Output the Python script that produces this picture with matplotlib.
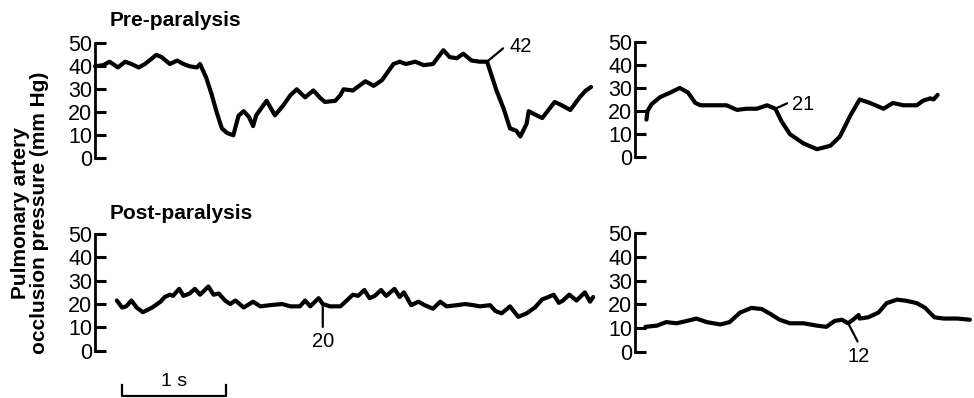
import numpy as np
import matplotlib.pyplot as plt
import matplotlib.transforms as mtransforms

plt.rcParams['font.family'] = ['Liberation Sans', 'DejaVu Sans']

# Traços de pressão (tempo em s, pressão em mm Hg)
pre_a_t = [0.00, 0.08, 0.14, 0.22, 0.29, 0.35, 0.42, 0.48, 0.55, 0.59, 0.64, 0.72, 0.79,
           0.85, 0.91, 0.98, 1.01, 1.07, 1.12, 1.17, 1.22, 1.27, 1.33, 1.38, 1.43, 1.48,
           1.52, 1.55, 1.65, 1.73, 1.81, 1.88, 1.94, 2.02, 2.10, 2.16, 2.21, 2.31, 2.36,
           2.39, 2.48, 2.60, 2.68, 2.76, 2.87, 2.93, 2.99, 3.08, 3.16, 3.25, 3.35, 3.41,
           3.48, 3.54, 3.62, 3.70, 3.77, 3.86, 3.93, 3.99, 4.05, 4.09, 4.15, 4.17, 4.21,
           4.30, 4.36, 4.42, 4.49, 4.57, 4.66, 4.72, 4.77]
pre_a_p = [40, 40.5, 42, 39.5, 42, 41, 39.5, 41, 43.5, 45, 44, 41, 42.5,
           41, 40, 39.5, 41, 35, 28, 20, 13, 11, 10, 18.5, 20.5, 18,
           14, 18.7, 25, 18.7, 23, 27.5, 30, 26.5, 29.5, 26.5, 24.5, 25, 27.5,
           30, 29.5, 33.5, 31.5, 34, 41, 42, 41, 42, 40.5, 41, 47, 44,
           43.5, 45.5, 42.5, 42, 42, 29.5, 21.5, 13, 12, 9.5, 15, 20.5, 19.5,
           17.5, 21, 24.5, 23, 21, 26.5, 29.5, 31]

pre_b_t = [0.11, 0.12, 0.16, 0.24, 0.34, 0.43, 0.51, 0.58, 0.63, 0.72, 0.88, 0.98, 1.07,
           1.17, 1.27, 1.35, 1.41, 1.49, 1.62, 1.75, 1.88, 1.97, 2.07, 2.16, 2.26, 2.39,
           2.48, 2.58, 2.71, 2.77, 2.84, 2.87, 2.91]
pre_b_p = [16.3, 20, 23, 26, 28, 30, 28, 23.5, 22.5, 22.5, 22.5, 20.5, 21,
           21, 22.5, 21, 15.5, 10, 6, 3.5, 5, 9, 18, 25, 23.5, 21,
           23.5, 22.5, 22.5, 24.5, 25.5, 25, 27]

post_a_t = [0.21, 0.26, 0.30, 0.35, 0.40, 0.46, 0.55, 0.63, 0.67, 0.72, 0.75, 0.81, 0.85,
            0.91, 0.96, 1.01, 1.09, 1.14, 1.19, 1.25, 1.30, 1.35, 1.43, 1.52, 1.59, 1.68,
            1.80, 1.88, 1.97, 2.02, 2.07, 2.15, 2.19, 2.26, 2.36, 2.42, 2.48, 2.53, 2.59,
            2.64, 2.69, 2.75, 2.80, 2.88, 2.93, 2.97, 3.04, 3.11, 3.17, 3.25, 3.32, 3.38,
            3.48, 3.56, 3.64, 3.70, 3.80, 3.85, 3.91, 3.99, 4.07, 4.15, 4.23, 4.30, 4.36,
            4.41, 4.46, 4.50, 4.56, 4.63, 4.71, 4.76, 4.79]
post_a_p = [21.5, 18.5, 19, 21.5, 18.5, 16.5, 18.5, 21, 23, 24, 23.5, 26.5, 23.5,
            24.5, 26.5, 24, 27.5, 24, 24.5, 21.5, 20, 21.5, 18.5, 21, 19, 19.5,
            20, 19, 19, 21.5, 19, 22.5, 20, 19, 19, 21.5, 24, 23.5, 26,
            22.5, 23.5, 26, 23.5, 26.5, 23, 25, 19.5, 21, 19.5, 18, 21, 19,
            19.5, 20, 19.5, 19, 19.5, 17, 16, 19, 14.5, 16, 18.5, 22, 23,
            24, 20.5, 21.5, 24, 21.5, 25, 21, 23]

post_b_t = [0.10, 0.21, 0.30, 0.40, 0.50, 0.59, 0.69, 0.82, 0.91, 1.01, 1.12, 1.22, 1.30,
            1.39, 1.49, 1.62, 1.75, 1.84, 1.92, 1.99, 2.05, 2.11, 2.15, 2.16, 2.24, 2.34,
            2.42, 2.52, 2.61, 2.71, 2.79, 2.88, 2.97, 3.10, 3.22]
post_b_p = [10.5, 11, 12.5, 12, 13, 14, 12.5, 11.5, 12.5, 16.5, 18.5, 18, 16,
            13.5, 12, 12, 11, 10.5, 13, 13.5, 12, 14, 15.5, 14, 14.5, 16.5,
            20.5, 22, 21.5, 20.5, 18.5, 14.5, 14, 14, 13.5]

# Valores destacados: (tempo, pressão, rótulo)
marca_pre_a = (3.77, 42, "42")
marca_pre_b = (1.35, 21, "21")
marca_post_a = (2.19, 20, "20")
marca_post_b = (2.05, 12, "12")

y_ticks = [0, 10, 20, 30, 40, 50]

W, H = 974, 398
PX_POR_S = 104.0


def criar_eixo(fig, x0, y_zero, y_cinq, x1):
    # posições em pixels -> fração da figura
    ax = fig.add_axes([x0 / W, (H - y_zero) / H, (x1 - x0) / W, (y_zero - y_cinq) / H])
    ax.set_xlim(0, (x1 - x0) / PX_POR_S)
    ax.set_ylim(0, 50)
    for lado in ["top", "right", "bottom"]:
        ax.spines[lado].set_visible(False)
    ax.spines["left"].set_linewidth(2.0)
    ax.spines["left"].set_bounds(0, 50)
    ax.set_yticks(y_ticks)
    ax.tick_params(axis="y", direction="in", length=8, width=2.2, pad=2, labelsize=15.5)
    ax.set_xticks([])
    ax.patch.set_visible(False)
    return ax


def desenhar(ax, t, p):
    ax.plot(t, p, color="black", lw=3.0, solid_joinstyle="round", solid_capstyle="round",
            clip_on=False)


def marcar(ax, marca, linha, texto, ha="center"):
    t, v, rotulo = marca
    ax.annotate("", xy=(t, v), xytext=linha, textcoords="offset points",
                arrowprops=dict(arrowstyle="-", lw=1.6, color="black", shrinkA=0, shrinkB=0))
    ax.annotate(rotulo, xy=(t, v), xytext=texto, textcoords="offset points",
                ha=ha, va="center", fontsize=14.5)


fig = plt.figure(figsize=(W / 100, H / 100), dpi=100)

ax1 = criar_eixo(fig, 95, 158.3, 43.3, 600)
ax2 = criar_eixo(fig, 635, 157.3, 41.7, 974)
ax3 = criar_eixo(fig, 95, 350.7, 234, 600)
ax4 = criar_eixo(fig, 635, 351.7, 233.3, 974)

desenhar(ax1, pre_a_t, pre_a_p)
desenhar(ax2, pre_b_t, pre_b_p)
desenhar(ax3, post_a_t, post_a_p)
desenhar(ax4, post_b_t, post_b_p)

marcar(ax1, marca_pre_a, (11.5, 9.6), (16.5, 10.6), ha="left")
marcar(ax2, marca_pre_b, (8.4, 3.9), (12.0, 3.4), ha="left")
marcar(ax3, marca_post_a, (0, -16.5), (0.5, -27))
marcar(ax4, marca_post_b, (6.8, -13.2), (7.7, -24))

# Títulos dos painéis
fig.text(110 / W, 1 - 21 / H, "Pre-paralysis", fontsize=15, fontweight="bold", va="center")
fig.text(110 / W, 1 - 213 / H, "Post-paralysis", fontsize=15, fontweight="bold", va="center")

# Rótulo do eixo y
fig.text(30 / W, 1 - 213 / H, "Pulmonary artery\nocclusion pressure (mm Hg)",
         rotation=90, ha="center", va="center", fontsize=15, fontweight="bold",
         linespacing=1.0, multialignment="center")

# Barra de escala de 1 s
trans = mtransforms.blended_transform_factory(ax3.transData, fig.transFigure)
x_ini = (121.7 - 95) / PX_POR_S
x_fim = x_ini + 1.0
y_base = (H - 396) / H
y_topo = (H - 385) / H
ax3.plot([x_ini, x_ini, x_fim, x_fim], [y_topo, y_base, y_base, y_topo], color="black",
         lw=1.6, transform=trans, clip_on=False)
ax3.text((x_ini + x_fim) / 2, (H - 381) / H, "1 s", transform=trans, ha="center",
         va="center", fontsize=14)

plt.savefig("out.png", dpi=100)
